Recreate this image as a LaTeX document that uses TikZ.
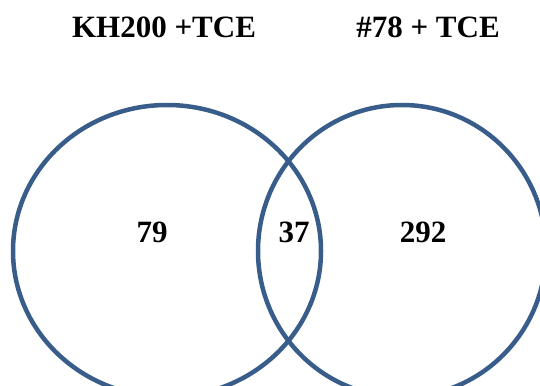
\documentclass[tikz,border=0pt]{standalone}
\usepackage{fontspec}
\setmainfont{Liberation Serif}
\usetikzlibrary{shapes.geometric}
\definecolor{setblue}{HTML}{385D8A}

\begin{document}
\begin{tikzpicture}[x=1pt,y=-1pt,
  set node/.style={ellipse,draw=setblue,line width=4.5pt,inner sep=0pt},
  label node/.style={anchor=base,inner sep=0pt,font=\fontsize{31}{31}\selectfont\bfseries}]

  \useasboundingbox (0,0) rectangle (540,385);
  \clip (0,0) rectangle (540,385);

  \node[set node,minimum width=308pt,minimum height=292pt] (1) at (167,251) {};
  \node[set node,minimum width=288pt,minimum height=292pt] (2) at (402,251) {};

  \node[label node] (t1) at (164,38) {KH200 +TCE};
  \node[label node] (t2) at (428,38) {\#78 + TCE};

  \node[label node] (a) at (152,242) {79};
  \node[label node] (b) at (294,242) {37};
  \node[label node] (c) at (423,242) {292};
\end{tikzpicture}
\end{document}
